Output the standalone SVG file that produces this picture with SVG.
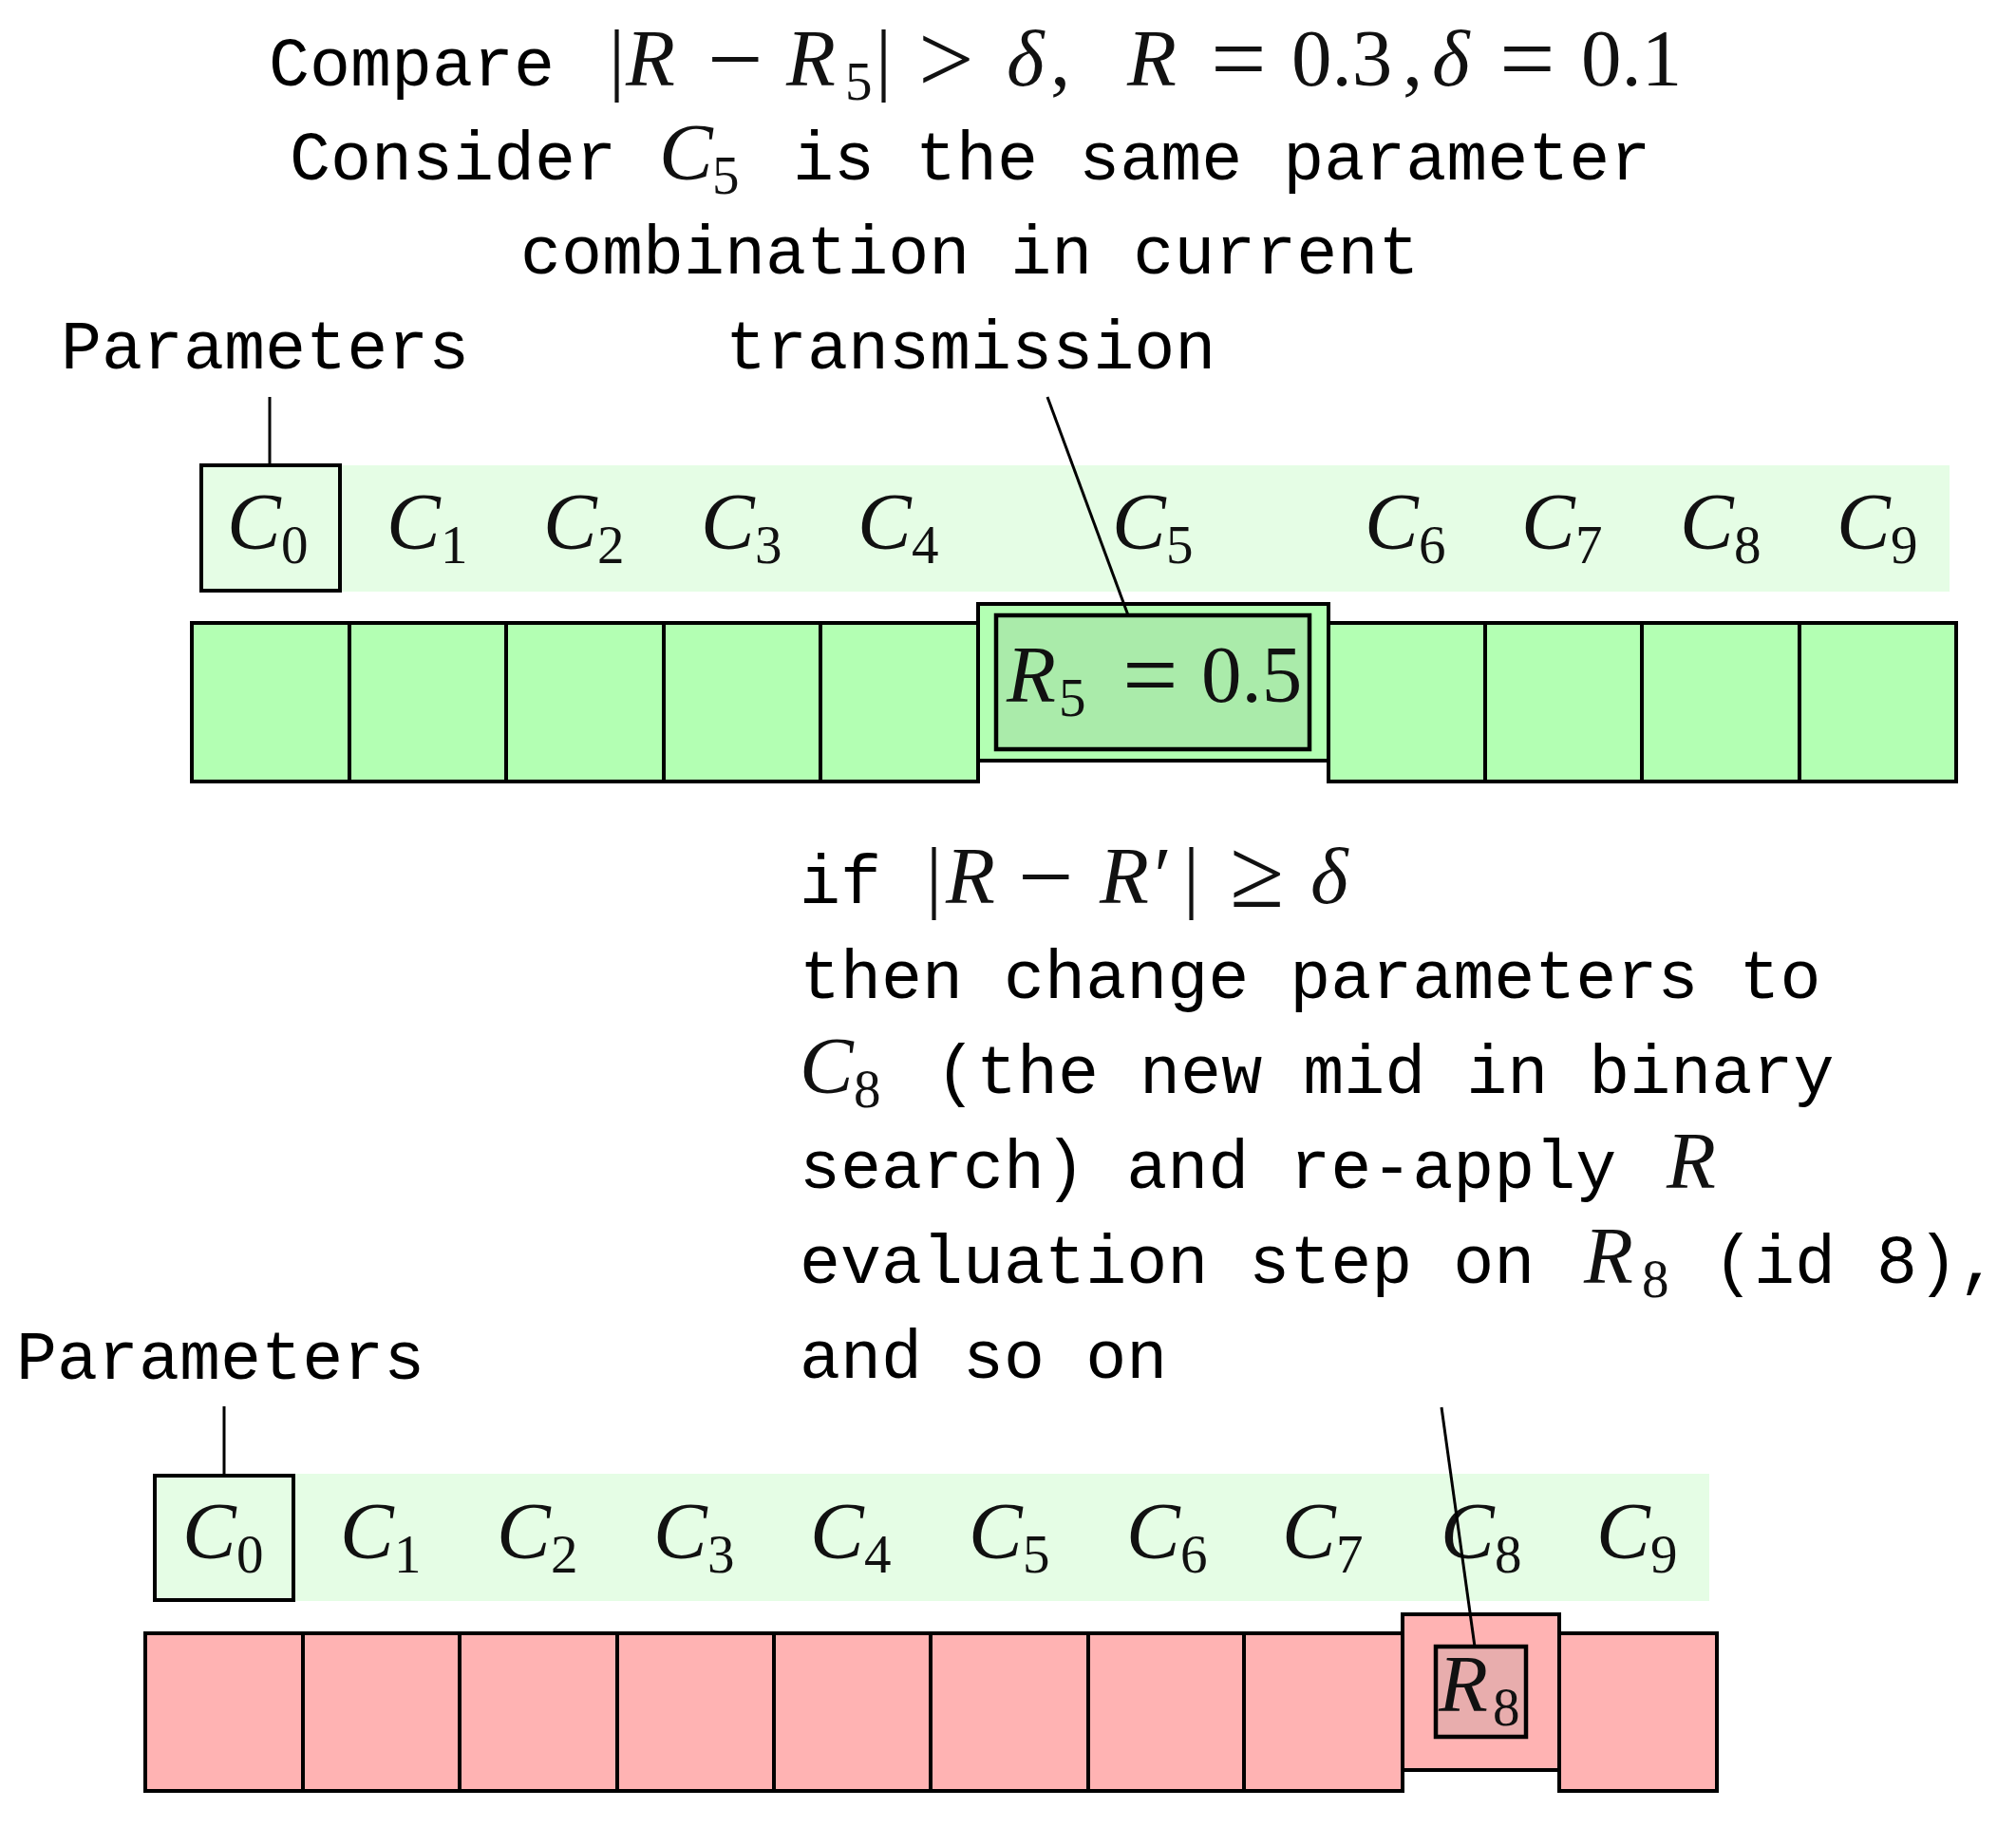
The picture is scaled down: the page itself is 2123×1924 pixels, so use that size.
<svg xmlns="http://www.w3.org/2000/svg" width="2123" height="1924" viewBox="0 0 2123 1924">
<style>
.mono{font-family:"Liberation Mono",monospace;font-size:71.7px;fill:#000}
.m{font-family:"Liberation Serif",serif;font-size:85px;fill:#111}
.i{font-style:italic}
.op{font-style:normal;font-size:104px}
.sub{font-size:57px;font-style:normal}
.band-g{fill:#e5fde5}
.cell-g{fill:#b3ffb3;stroke:#000;stroke-width:4}
.cell-r{fill:#ffb3b3;stroke:#000;stroke-width:4}
.box{fill:#e5fde5;stroke:#000;stroke-width:4}
.in-g{fill:#aaebaa;stroke:#000;stroke-width:4.5}
.in-r{fill:#e8adad;stroke:#000;stroke-width:4.5}
.conn{stroke:#000;stroke-width:3;fill:none}
</style>
<rect width="2123" height="1924" fill="#fff"/>

<g id="title">
<text class="mono" x="283" y="90">Compare<tspan class="m" x="641">|</tspan><tspan class="m i" x="659">R</tspan><tspan class="m op" x="745" y="97">−</tspan><tspan class="m i" x="828" y="90">R</tspan><tspan class="m sub" x="890" y="105">5</tspan><tspan class="m" x="922" y="90">|</tspan><tspan class="m op" x="967" y="97">&gt;</tspan><tspan class="m i" x="1060" y="90">δ</tspan><tspan class="m" x="1106">,</tspan><tspan class="m i" x="1187">R</tspan><tspan class="m op" x="1275" y="97">=</tspan><tspan class="m" x="1360" y="90">0.3</tspan><tspan class="m" x="1477">,</tspan><tspan class="m i" x="1508">δ</tspan><tspan class="m op" x="1579" y="97">=</tspan><tspan class="m" x="1665" y="90">0.1</tspan></text>
<text class="mono" x="305" y="189">Consider<tspan class="m i" x="694">C</tspan><tspan class="m sub" x="750" y="204">5</tspan><tspan x="835" y="189">is the same parameter</tspan></text>
<text class="mono" x="548" y="288">combination in current</text>
<text class="mono" x="764" y="388">transmission</text>
</g>

<g id="params-top">
<text class="mono" x="64" y="388">Parameters</text>
<rect class="band-g" x="211" y="490" width="1842" height="133"/>
<rect id="c0-top" class="box" x="212" y="490" width="146" height="132"/>
<g class="m">
<text x="239" y="578"><tspan class="i">C</tspan><tspan class="sub" x="296" y="593">0</tspan></text>
<text x="407" y="578"><tspan class="i">C</tspan><tspan class="sub" x="464" y="593">1</tspan></text>
<text x="572" y="578"><tspan class="i">C</tspan><tspan class="sub" x="629" y="593">2</tspan></text>
<text x="738" y="578"><tspan class="i">C</tspan><tspan class="sub" x="795" y="593">3</tspan></text>
<text x="903" y="578"><tspan class="i">C</tspan><tspan class="sub" x="960" y="593">4</tspan></text>
<text x="1171" y="578"><tspan class="i">C</tspan><tspan class="sub" x="1228" y="593">5</tspan></text>
<text x="1437" y="578"><tspan class="i">C</tspan><tspan class="sub" x="1494" y="593">6</tspan></text>
<text x="1602" y="578"><tspan class="i">C</tspan><tspan class="sub" x="1659" y="593">7</tspan></text>
<text x="1769" y="578"><tspan class="i">C</tspan><tspan class="sub" x="1826" y="593">8</tspan></text>
<text x="1934" y="578"><tspan class="i">C</tspan><tspan class="sub" x="1991" y="593">9</tspan></text>
</g>
</g>

<g id="results-top">
<rect class="cell-g" x="202" y="656" width="166" height="167"/>
<rect class="cell-g" x="368" y="656" width="165" height="167"/>
<rect class="cell-g" x="533" y="656" width="166" height="167"/>
<rect class="cell-g" x="699" y="656" width="165" height="167"/>
<rect class="cell-g" x="864" y="656" width="166" height="167"/>
<rect class="cell-g" x="1399" y="656" width="165" height="167"/>
<rect class="cell-g" x="1564" y="656" width="165" height="167"/>
<rect class="cell-g" x="1729" y="656" width="166" height="167"/>
<rect class="cell-g" x="1895" y="656" width="165" height="167"/>
<g id="r5">
<rect class="cell-g" x="1030" y="636" width="369" height="165"/>
<rect class="in-g" x="1049" y="648" width="330" height="141"/>
<text class="m" x="1060" y="739"><tspan class="i">R</tspan><tspan class="sub" x="1115" y="754">5</tspan><tspan class="op" x="1182" y="746">=</tspan><tspan x="1265" y="739">0.5</tspan></text>
</g>
</g>

<g id="explanation">
<text class="mono" x="842" y="951">if<tspan class="m" x="975">|</tspan><tspan class="m i" x="996">R</tspan><tspan class="m op" x="1072" y="958">−</tspan><tspan class="m i" x="1158" y="951">R′</tspan><tspan class="m" x="1246">|</tspan><tspan class="m op" x="1295" y="955">≥</tspan><tspan class="m i" x="1380" y="951">δ</tspan></text>
<text class="mono" x="842" y="1051">then change parameters to</text>
<text class="mono" x="842" y="1151"><tspan class="m i">C</tspan><tspan class="m sub" x="899" y="1166">8</tspan><tspan x="985" y="1151">(the new mid in binary</tspan></text>
<text class="mono" x="842" y="1251">search) and re-apply<tspan class="m i" x="1755">R</tspan></text>
<text class="mono" x="842" y="1351">evaluation step on<tspan class="m i" x="1668">R</tspan><tspan class="m sub" x="1729" y="1366">8</tspan><tspan x="1804" y="1351">(id 8),</tspan></text>
<text class="mono" x="842" y="1451">and so on</text>
</g>

<g id="params-bottom">
<text class="mono" x="17" y="1452">Parameters</text>
<rect class="band-g" x="163" y="1552" width="1637" height="134"/>
<rect id="c0-bottom" class="box" x="163" y="1554" width="146" height="131"/>
<g class="m">
<text x="192" y="1641"><tspan class="i">C</tspan><tspan class="sub" x="249" y="1656">0</tspan></text>
<text x="358" y="1641"><tspan class="i">C</tspan><tspan class="sub" x="415" y="1656">1</tspan></text>
<text x="523" y="1641"><tspan class="i">C</tspan><tspan class="sub" x="580" y="1656">2</tspan></text>
<text x="688" y="1641"><tspan class="i">C</tspan><tspan class="sub" x="745" y="1656">3</tspan></text>
<text x="853" y="1641"><tspan class="i">C</tspan><tspan class="sub" x="910" y="1656">4</tspan></text>
<text x="1020" y="1641"><tspan class="i">C</tspan><tspan class="sub" x="1077" y="1656">5</tspan></text>
<text x="1186" y="1641"><tspan class="i">C</tspan><tspan class="sub" x="1243" y="1656">6</tspan></text>
<text x="1350" y="1641"><tspan class="i">C</tspan><tspan class="sub" x="1407" y="1656">7</tspan></text>
<text x="1517" y="1641"><tspan class="i">C</tspan><tspan class="sub" x="1574" y="1656">8</tspan></text>
<text x="1681" y="1641"><tspan class="i">C</tspan><tspan class="sub" x="1738" y="1656">9</tspan></text>
</g>
</g>

<g id="results-bottom">
<rect class="cell-r" x="153" y="1720" width="166" height="166"/>
<rect class="cell-r" x="319" y="1720" width="165" height="166"/>
<rect class="cell-r" x="484" y="1720" width="166" height="166"/>
<rect class="cell-r" x="650" y="1720" width="165" height="166"/>
<rect class="cell-r" x="815" y="1720" width="165" height="166"/>
<rect class="cell-r" x="980" y="1720" width="166" height="166"/>
<rect class="cell-r" x="1146" y="1720" width="164" height="166"/>
<rect class="cell-r" x="1310" y="1720" width="167" height="166"/>
<rect class="cell-r" x="1642" y="1720" width="166" height="166"/>
<g id="r8">
<rect class="cell-r" x="1477" y="1700" width="165" height="164"/>
<rect class="in-r" x="1512" y="1734" width="95" height="95"/>
<text class="m" x="1515" y="1802"><tspan class="i">R</tspan><tspan class="sub" x="1572" y="1817">8</tspan></text>
</g>
</g>

<g id="connectors">
<line class="conn" x1="284" y1="418" x2="284" y2="490"/>
<line class="conn" x1="1103" y1="418" x2="1188" y2="648"/>
<line class="conn" x1="236" y1="1481" x2="236" y2="1554"/>
<line class="conn" x1="1518" y1="1482" x2="1553" y2="1734"/>
</g>
</svg>
